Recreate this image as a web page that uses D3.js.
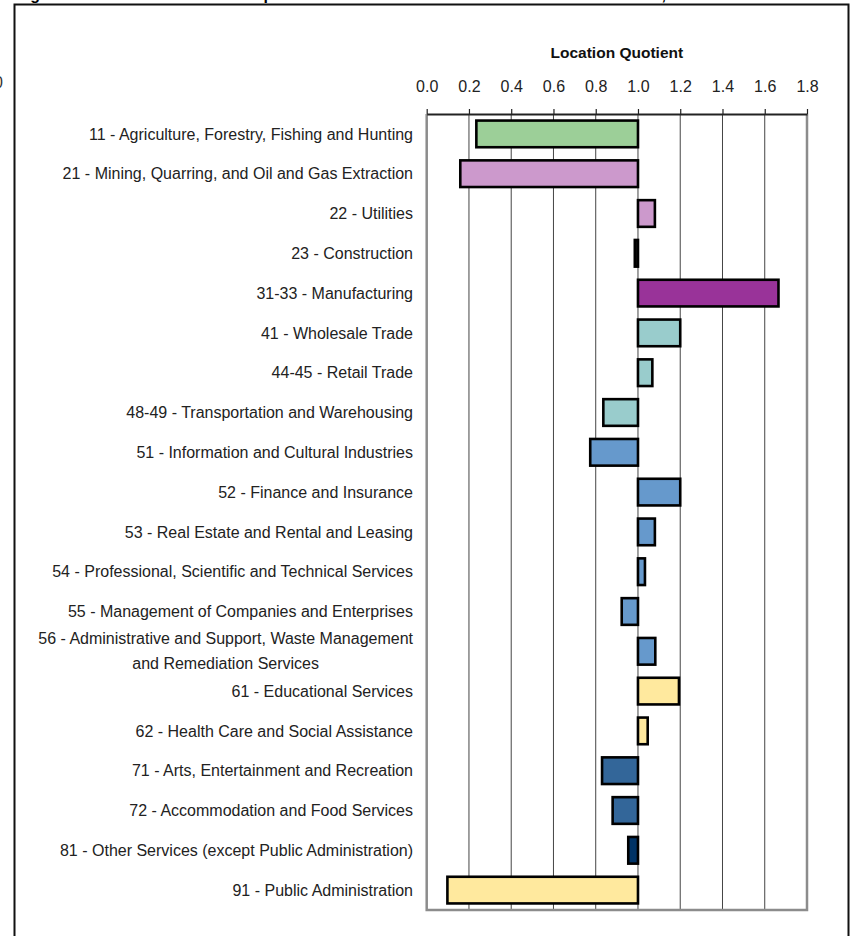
<!DOCTYPE html>
<html>
<head>
<meta charset="utf-8">
<script src="https://cdn.jsdelivr.net/npm/d3@7"></script>
<style>
  html, body { margin: 0; padding: 0; background: #fff; }
  svg { display: block; }
  .lbl { font-family: "Liberation Sans", Arial, sans-serif; }
</style>
</head>
<body>
<svg id="chart" width="852" height="936"></svg>
<script>
const categories = [
  ["11 - Agriculture, Forestry, Fishing and Hunting"],
  ["21 - Mining, Quarring, and Oil and Gas Extraction"],
  ["22 - Utilities"],
  ["23 - Construction"],
  ["31-33 - Manufacturing"],
  ["41 - Wholesale Trade"],
  ["44-45 - Retail Trade"],
  ["48-49 - Transportation and Warehousing"],
  ["51 - Information and Cultural Industries"],
  ["52 - Finance and Insurance"],
  ["53 - Real Estate and Rental and Leasing"],
  ["54 - Professional, Scientific and Technical Services"],
  ["55 - Management of Companies and Enterprises"],
  ["56 - Administrative and Support, Waste Management", "and Remediation Services"],
  ["61 - Educational Services"],
  ["62 - Health Care and Social Assistance"],
  ["71 - Arts, Entertainment and Recreation"],
  ["72 - Accommodation and Food Services"],
  ["81 - Other Services (except Public Administration)"],
  ["91 - Public Administration"]
];
const values = [0.235, 0.159, 1.08, 0.985, 1.665, 1.20, 1.068, 0.836, 0.774, 1.20,
                1.08, 1.033, 0.923, 1.082, 1.194, 1.046, 0.830, 0.880, 0.954, 0.098];
const colors = ["#9ccf98", "#cc99cc", "#cc99cc", "#111111", "#993399", "#99cccc", "#99cccc", "#99cccc",
                "#6699cc", "#6699cc", "#6699cc", "#6699cc", "#6699cc", "#6699cc",
                "#ffe99e", "#ffe99e", "#336699", "#336699", "#003366", "#ffe99e"];
const tickValues = [0.0, 0.2, 0.4, 0.6, 0.8, 1.0, 1.2, 1.4, 1.6, 1.8];
const baseline = 1.0;
const axisTitle = "Location Quotient";
const chartTitle = "Figure 5: Local Area Sector Comparison Relative to the Ontario Economic Base Total, 2011";

const svg = d3.select("#chart");
const keys = categories.map((c, i) => i);

const x = d3.scaleLinear().domain([0, 1.8]).range([426.7, 807]);
const y = d3.scaleBand().domain(keys).range([114, 910]).paddingInner(0.33).paddingOuter(0.165);

// outer frame
svg.append("path")
  .attr("d", "M14.5,936 L14.5,4.5 L848.5,4.5 L848.5,936")
  .attr("fill", "none").attr("stroke", "#111").attr("stroke-width", 2);

// title (mostly cut off at top edge, as in the reference)
svg.append("text")
  .attr("class", "lbl")
  .attr("x", 16).attr("y", 0)
  .attr("font-weight", "bold").attr("font-size", 16)
  .text(chartTitle);

// neighbouring fragment at the left edge
svg.append("text").attr("class", "lbl")
  .attr("x", -6).attr("y", 88).attr("font-size", 16).attr("fill", "#333").text("0");

// gridlines
svg.append("g").selectAll("line").data(tickValues.slice(1, -1)).join("line")
  .attr("x1", d => x(d)).attr("x2", d => x(d))
  .attr("y1", 114).attr("y2", 910)
  .attr("stroke", "#444").attr("stroke-width", 1);

// plot frame (left, right, bottom)
svg.append("path")
  .attr("d", `M${x(0)},114 L${x(0)},910 L${x(1.8)},910 L${x(1.8)},114`)
  .attr("fill", "none").attr("stroke", "#8c8c8c").attr("stroke-width", 2.5);

// bars
svg.append("g").selectAll("rect").data(values).join("rect")
  .attr("x", d => x(Math.min(d, baseline)))
  .attr("width", d => Math.abs(x(d) - x(baseline)))
  .attr("y", (d, i) => y(i))
  .attr("height", y.bandwidth())
  .attr("fill", (d, i) => colors[i])
  .attr("stroke", "#000").attr("stroke-width", 2.6);

// top axis
const axis = d3.axisTop(x).tickValues(tickValues).tickFormat(d3.format(".1f")).tickSize(5).tickSizeOuter(0).tickPadding(17);
const gAxis = svg.append("g").attr("transform", "translate(0,114)").call(axis);
gAxis.select(".domain").attr("stroke", "#222").attr("stroke-width", 2);
gAxis.selectAll(".tick line").attr("stroke", "#222").attr("stroke-width", 1.2);
gAxis.selectAll(".tick text")
  .attr("class", "lbl")
  .attr("font-size", 16).attr("fill", "#222");

// axis title
svg.append("text").attr("class", "lbl")
  .attr("x", (x(0) + x(1.8)) / 2).attr("y", 58)
  .attr("text-anchor", "middle").attr("font-weight", "bold").attr("font-size", 15.5)
  .attr("fill", "#111")
  .text(axisTitle);

// category labels
const labels = svg.append("g").selectAll("text").data(categories).join("text")
  .attr("class", "lbl").attr("font-size", 16).attr("fill", "#222");
labels.each(function(lines, i) {
  const t = d3.select(this);
  const cy = y(i) + y.bandwidth() / 2;
  if (lines.length === 1) {
    t.attr("x", 413).attr("y", cy).attr("dy", "0.35em").attr("text-anchor", "end").text(lines[0]);
  } else {
    t.attr("text-anchor", "end");
    const first = t.append("tspan").attr("x", 413).attr("y", cy - 12.5).attr("dy", "0.35em").text(lines[0]);
    const w = first.node().getComputedTextLength();
    t.append("tspan").attr("x", 413 - w / 2).attr("y", cy + 12.5).attr("dy", "0.35em")
      .attr("text-anchor", "middle").text(lines[1]);
  }
});
</script>
</body>
</html>
